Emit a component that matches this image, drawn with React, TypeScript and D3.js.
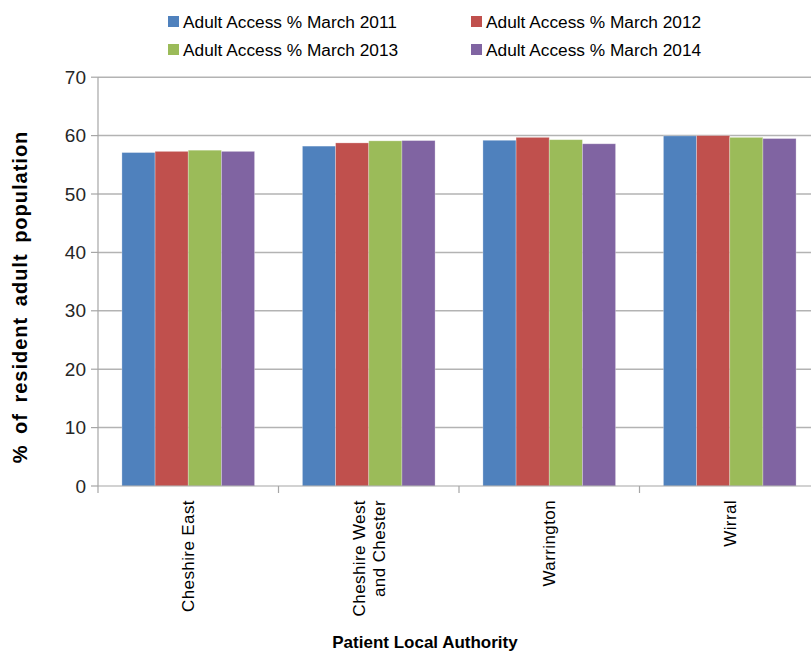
import React from "react";
import * as d3 from "d3";

const categories = ["Cheshire East", "Cheshire West and Chester", "Warrington", "Wirral"];
const categoryLines = [["Cheshire East"], ["Cheshire West", "and Chester"], ["Warrington"], ["Wirral"]];
const seriesNames = [
  "Adult Access % March 2011",
  "Adult Access % March 2012",
  "Adult Access % March 2013",
  "Adult Access % March 2014",
];
const colors = ["#4F81BD", "#C0504D", "#9BBB59", "#8064A2"];
const march2011 = [57.1, 58.2, 59.2, 59.95];
const march2012 = [57.3, 58.75, 59.7, 60.0];
const march2013 = [57.5, 59.1, 59.3, 59.7];
const march2014 = [57.3, 59.15, 58.6, 59.5];
const seriesValues = [march2011, march2012, march2013, march2014];
const yTicks = [0, 10, 20, 30, 40, 50, 60, 70];

const W = 811, H = 653;
const left = 98, right = 820, top = 77.2, bottom = 486;
const font = "'Liberation Sans', Arial, sans-serif";

export default function App() {
  const x = d3.scaleBand<string>().domain(categories).range([left, right]).paddingInner(0).paddingOuter(0);
  const bw = x.bandwidth();
  const groupW = bw * 0.735;
  const inner = d3.scaleBand<number>().domain([0, 1, 2, 3]).range([0, groupW]).padding(0);
  const y = d3.scaleLinear().domain([0, 70]).range([bottom, top]);
  const legendPos = [
    [168, 22], [471, 22], [168, 50], [471, 50],
  ];
  const boundaries = [left, ...categories.map((c) => (x(c) as number) + bw)];
  return (
    <svg width={W} height={H} style={{ position: "absolute", left: 0, top: 0, background: "#fff" }}>
      {yTicks.map((t) => (
        <g key={t}>
          {t > 0 && <line x1={left} x2={W} y1={y(t)} y2={y(t)} stroke="#b3b3b3" strokeWidth={1.5} />}
          <line x1={left - 7} x2={left} y1={y(t)} y2={y(t)} stroke="#a6a6a6" strokeWidth={1.2} />
          <text x={86} y={y(t)} dy="0.35em" textAnchor="end" fontFamily={font} fontSize={19} fill="#262626">{t}</text>
        </g>
      ))}
      {seriesValues.map((vals, si) =>
        categories.map((c, ci) => {
          const x0 = (x(c) as number) + (bw - groupW) / 2 + (inner(si) as number);
          return (
            <rect key={si + "-" + ci} x={x0} y={y(vals[ci])} width={inner.bandwidth()} height={bottom - y(vals[ci])}
              fill={colors[si]} stroke="#ffffff" strokeOpacity={0.35} strokeWidth={0.8} />
          );
        })
      )}
      <line x1={left} x2={left} y1={top} y2={bottom} stroke="#a6a6a6" strokeWidth={1.2} />
      <line x1={left} x2={W} y1={bottom} y2={bottom} stroke="#a6a6a6" strokeWidth={1.2} />
      {boundaries.map((b, i) => (
        <line key={i} x1={b} x2={b} y1={bottom} y2={bottom + 7} stroke="#a6a6a6" strokeWidth={1.2} />
      ))}
      {categoryLines.map((lines, ci) => {
        const cx = (x(categories[ci]) as number) + bw / 2;
        const lh = 20;
        return (
          <g key={ci}>
            {lines.map((ln, li) => {
              const off = (li - (lines.length - 1) / 2) * lh;
              return (
                <text key={li} transform={`translate(${cx + off + 6},500) rotate(-90)`} textAnchor="end"
                  fontFamily={font} fontSize={17} letterSpacing={0.4} fill="#000">{ln}</text>
              );
            })}
          </g>
        );
      })}
      <text transform="translate(27,297) rotate(-90)" textAnchor="middle" fontFamily={font} fontWeight="bold" fontSize={20} fill="#000" letterSpacing={1} wordSpacing={4}>% of resident adult population</text>
      <text x={425} y={648} textAnchor="middle" fontFamily={font} fontWeight="bold" fontSize={17} fill="#000">Patient Local Authority</text>
      {seriesNames.map((n, i) => (
        <g key={n}>
          <rect x={legendPos[i][0]} y={legendPos[i][1] - 6} width={11} height={11} fill={colors[i]} />
          <text x={legendPos[i][0] + 15} y={legendPos[i][1]} dy="0.35em" fontFamily={font} fontSize={17.3} fill="#000">{n}</text>
        </g>
      ))}
    </svg>
  );
}
